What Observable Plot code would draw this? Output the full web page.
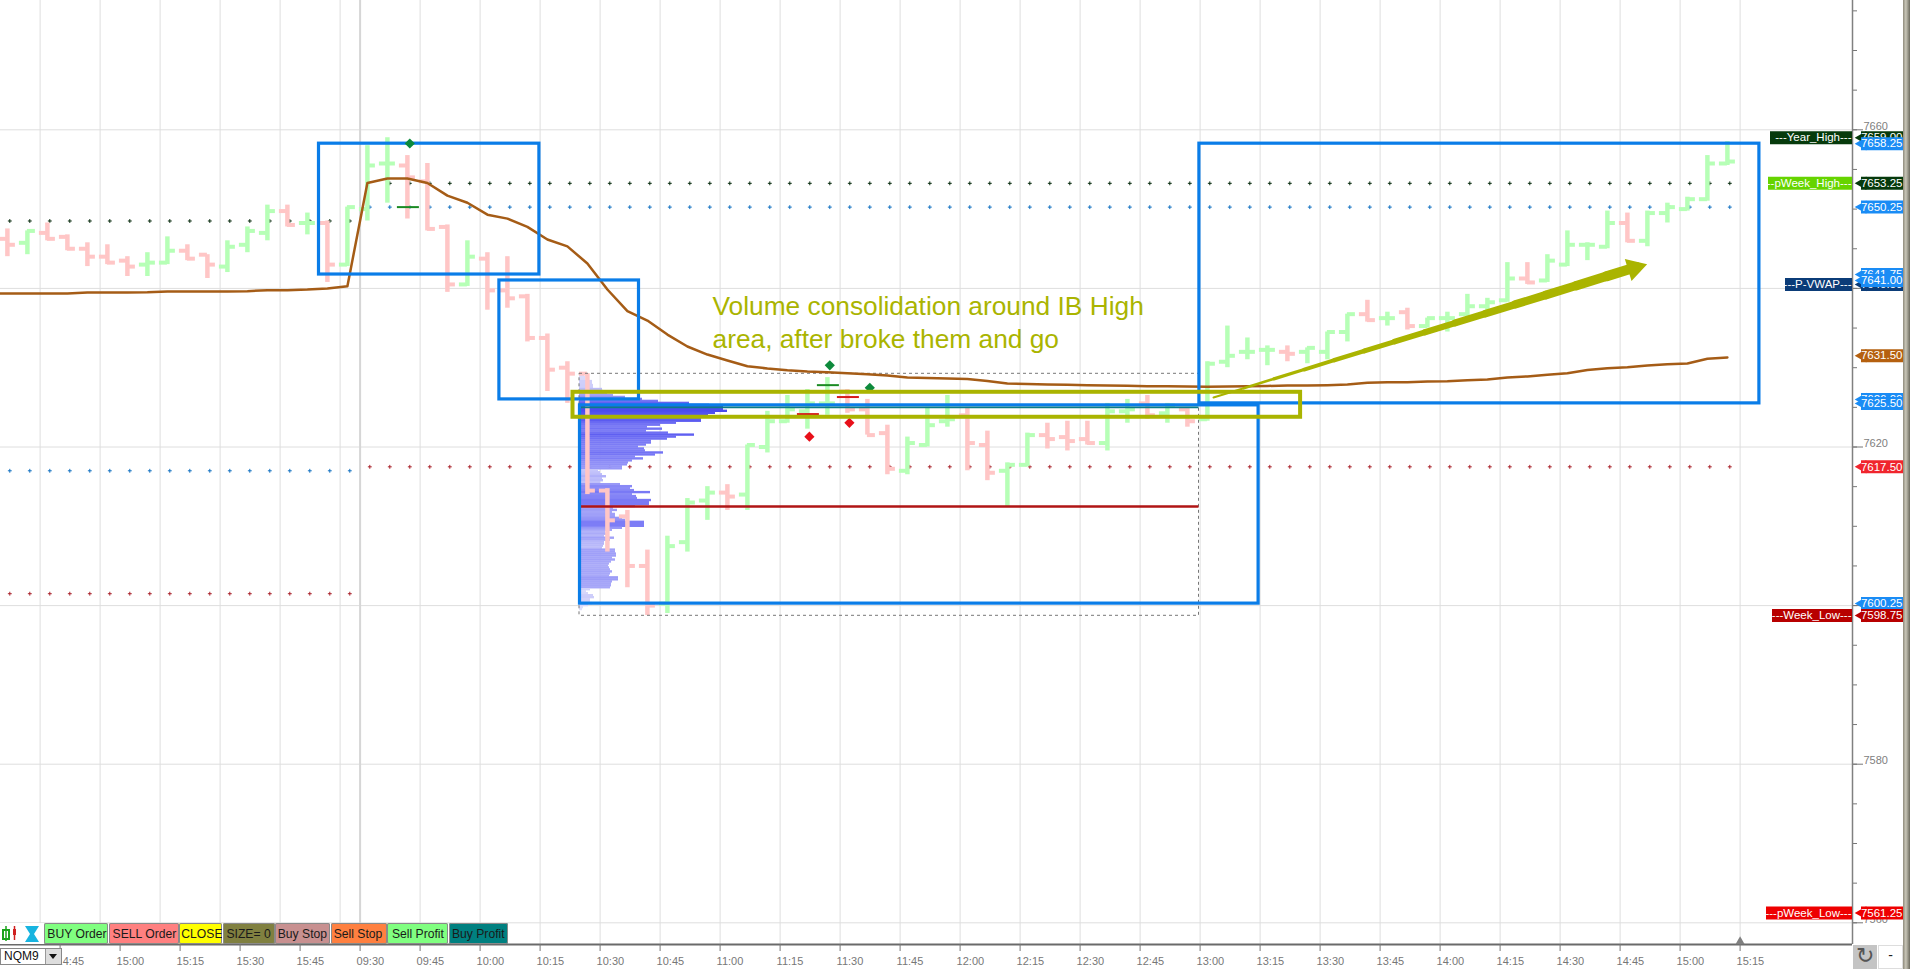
<!DOCTYPE html>
<html>
<head>
<meta charset="utf-8">
<script src="https://cdn.jsdelivr.net/npm/d3@7"></script>
<script src="https://cdn.jsdelivr.net/npm/@observablehq/plot@0.6"></script>
<style>
html,body{margin:0;padding:0;background:#fff;overflow:hidden}
#wrap{position:relative;width:1910px;height:969px;overflow:hidden;font-family:"Liberation Sans",Arial,sans-serif}
#wrap svg{display:block}
.btn{position:absolute;top:923px;height:21px;line-height:21px;text-align:center;font-size:13.5px;color:#1a1a1a;border-radius:2px;box-shadow:inset 0 0 0 1px #8a8a8a;white-space:nowrap;overflow:hidden}
.btn span{display:inline-block;transform:scaleX(.9);transform-origin:center}
</style>
</head>
<body>
<div id="wrap"></div>
<script>
// ---- bars: open / high / low / close, 5-minute bars in order
const barOpen = [7646.25,7645.75,7647,7646.5,7645,7644,7643.5,7643,7643.25,7644.75,7644.25,7642.75,7645.5,7647,7649.75,7648.25,7648.25,7643,7650,7655.75,7655.5,7653.5,7647.75,7640.5,7643.75,7639.75,7639,7633.75,7630,
7629.25,7614.5,7611.25,7605,7600.25,7608,7613.25,7614.25,7614,7620,7623.25,7624.5,7625.5,7627,7624.75,7621.75,7617,7620.25,7623.25,7624,7620.25,7617,7617.75,7621.5,7621.25,7621,7620.5,7624.5,7625.5,7624.25,7624.75,
7623.5,7630.75,7632,7632.25,7632,7632,7632,7634.5,7636.75,7636.25,7637,7635.25,7636.25,7636.75,7637.75,7638.5,7641.25,7641,7643,7645.5,7645.25,7648.25,7646,7649.5,7650,7651.25,7655.75];
const barHigh = [7647.5,7647.25,7648.25,7646.75,7645.75,7645.5,7644,7644.5,7646.5,7645.5,7644.25,7646,7647.75,7650.5,7650.5,7649.5,7648.5,7650.25,7658,7659,7656.75,7655.75,7648,7646,7644.5,7644,7639.25,7634.25,7630.75,
7629.25,7614.75,7612,7607,7608.75,7613.5,7615,7615.25,7620.25,7624.5,7626.5,7627.25,7628.75,7627.25,7626,7622.75,7621.25,7625,7626.5,7625,7622,7618,7621.75,7623,7623.25,7623.25,7625.5,7626,7626.5,7625.5,7625,
7630.75,7635.25,7633.75,7632.75,7632.75,7632.5,7634.5,7636.75,7638.5,7637,7637.5,7636.25,7637,7639.25,7638.75,7643.25,7643.25,7644.25,7647.25,7645.75,7649.75,7649.5,7649.75,7650.75,7651.5,7656.75,7658.5];
const barLow = [7644,7644.25,7646,7644.75,7642.75,7643,7641.5,7641.5,7643,7643.5,7641.25,7642,7644.5,7646,7647.75,7646.75,7640.75,7642.75,7648.5,7650.75,7648.75,7647.25,7639.5,7640.25,7637.25,7637.5,7633.25,7627,7625.5,
7614,7606.75,7602.25,7598.75,7599,7606.75,7610.75,7612,7612,7619.25,7623,7622.25,7624,7624.25,7621.5,7616.5,7616.5,7620,7622.5,7617,7615.75,7612.5,7617.5,7619.75,7619.5,7620.25,7619.5,7623,7623.5,7623,7622.5,
7623.25,7630,7631,7630.25,7630.75,7630.5,7631,7633.25,7635.75,7635.25,7634.75,7635,7634.5,7636,7636.75,7638.25,7640.5,7640.75,7642.75,7643.5,7645,7645.75,7645.25,7648.25,7649.75,7651,7655.5];
const barClose = [7645.5,7647.25,7646.25,7645,7644,7643.25,7642.75,7643.25,7644.75,7643.75,7643,7645.25,7647.25,7649.75,7648,7648.25,7643,7650.25,7655.5,7655.75,7654,7647.5,7640.5,7644,7639.75,7638.75,7633.75,7629.75,7629.25,
7614.5,7610.75,7605,7600,7607.5,7613,7614.25,7613.75,7620.25,7623.25,7624.75,7625.5,7625.5,7624.75,7621.5,7617.25,7620.5,7622.75,7623.5,7620.5,7616.75,7617.75,7621.5,7621,7620.75,7620.5,7624.5,7624.75,7624,7625.25,7623.25,
7630.5,7631.5,7632,7632.25,7631.75,7632.5,7634.5,7636.75,7636,7636.25,7635.25,7636.25,7636.25,7637.75,7638.25,7641.25,7640.75,7643.5,7645.5,7645.5,7648.25,7646,7649.5,7650.25,7651.25,7655.75,7656];

// ---- VWAP by bar
const vwapLead = 7639.36;
const vwap = [7639.36,7639.36,7639.36,7639.36,7639.48,7639.48,7639.48,7639.5,7639.6,7639.6,7639.6,7639.6,7639.65,7639.78,7639.78,7639.86,7640,7640.28,7653.3,7653.86,7653.86,7653.3,7651.7,7650.8,7649.3,7648.8,7647.76,7646.17,7645.3,7643.14,7639.86,7637.13,
7635.95,7634.18,7632.67,7631.66,7630.9,7630.19,7629.9,7629.68,7629.52,7629.43,7629.3,7629.18,7629.02,7628.76,7628.7,7628.64,7628.58,7628.32,7628,7627.95,7627.88,7627.84,7627.8,7627.76,7627.72,7627.67,7627.67,7627.63,7627.6,
7627.63,7627.67,7627.7,7627.76,7627.76,7627.8,7627.88,7628.1,7628.18,7628.18,7628.26,7628.3,7628.43,7628.5,7628.77,7628.9,7629.1,7629.3,7629.7,7629.94,7630.07,7630.28,7630.45,7630.53,7631.12,7631.29];

// ---- volume profile, one row per 0.25 point, from the top of the session range down
const profileTop = 7629;
const profileVolume = [5,6,6,13,13,14,14,23,24,28,34,46,63,79,110,130,144,144,148,136,129,124,122,122,97,81,68,83,67,89,115,97,88,72,72,67,59,65,66,84,76,56,64,53,49,48,43,43,19,21,23,27,23,24,21,41,53,51,55,71,53,57,58,72,70,70,56,34,38,33,36,36,43,46,65,65,65,43,33,26,29,25,35,31,25,25,24,23,36,36,37,37,33,36,32,30,29,30,31,33,31,30,39,39,33,32,32,31,11,7,9,14,15,11,11,13,9,4,3];

// ---- levels drawn as dotted rows: price, first bar, last bar
const dottedPrice = [7648.5,7653.25,7650.25,7617,7617.5,7601.5];
const dottedFrom  = [0,19,18,0,18,0];
const dottedTo    = [17,86,86,17,86,17];
const dottedColor = ["#062a0c","#062a0c","#1070c0","#1070c0","#a82028","#a82028"];

// ---- annotation boxes: bar left, bar right, top price, bottom price
const boxLeft   = [15.58,24.6,28.63,59.6];
const boxRight  = [26.6,31.58,62.56,87.6];
const boxTop    = [7658.25,7641,7625.25,7658.25];
const boxBottom = [7641.75,7626,7600.25,7625.5];
const olive = {left:28.28,right:64.66,top:7626.9,bottom:7623.75};

// ---- orders
const greenDiamonds = [[20.12,7658.27],[41.12,7630.3],[43.12,7627.46]];
const redDiamonds   = [[40.1,7621.3],[42.1,7623.05]];
const greenDashes   = [[19.5,20.6,7650.25],[40.5,41.6,7627.8]];
const redDashes     = [[41.5,42.6,7626.3],[39.5,40.6,7624.15]];

// ---- time axis
const timeLabels = ["14:45","15:00","15:15","15:30","15:45","09:30","09:45","10:00","10:15","10:30","10:45","11:00","11:15","11:30","11:45","12:00","12:15","12:30","12:45","13:00","13:15","13:30","13:45","14:00","14:15","14:30","14:45","15:00","15:15"];
const majorPrices = [7660,7640,7620,7600,7580,7560];
const minorPrices = [7675,7670,7665,7660,7655,7650,7645,7640,7635,7630,7625,7620,7615,7610,7605,7600,7595,7590,7585,7580,7575,7570,7565,7560];

// ---- price tags, drawn in this order
const tagPrice = [7659,7658.25,7653.25,7650.25,7641.75,7640.5,7641,7631.5,7626,7625.5,7617.5,7600.25,7598.75,7561.25];
const tagColor = ["#063a0c","#1a8cf5","#063a0c","#1a8cf5","#1a8cf5","#0b3c78","#1a8cf5","#b5600f","#1a8cf5","#1a8cf5","#f0252d","#1a8cf5","#b80000","#ee0000"];
const nameText  = ["---Year_High---","---pWeek_High---","---P-VWAP---","---Week_Low---","---pWeek_Low---"];
const namePrice = [7659,7653.25,7640.5,7598.75,7561.25];
const nameColor = ["#063a0c","#66d400","#0b3c78","#b80000","#ee0000"];
const nameLeft  = [1770,1768,1785,1772,1766];

const note = ["Volume consolidation around IB High","area, after broke them and go"];

// pixel helpers for overlay annotations only
const uPx = px => (px - 6.9) / 20;
const pPx = y => 7660 - (y - 130.3) / 7.93;

const UP = "#b6ffb6", DOWN = "#ffc6c6", GRID = "#dedede", OLIVE = "#aab400", BLUE = "#0a7de8", BROWN = "#a55c16";
const bars = barOpen.map((o,i)=>({i,o,h:barHigh[i],l:barLow[i],c:barClose[i],col:barClose[i]>=o?UP:DOWN}));
const vw = [{i:uPx(0),v:vwapLead}].concat(vwap.map((v,i)=>({i,v})));
const rows = profileVolume.map((v,i)=>({v,p:profileTop-0.25*i}));
const profileLeft = uPx(579);
const tickSlots = timeLabels.map((_,i)=>2.635+3*i);
const slotLabel = new Map(tickSlots.map((s,i)=>[s,timeLabels[i]]));
const gridSlots = [1.635,4.635,7.635,10.635,13.635,16.635].concat(tickSlots.slice(5).filter(s=>s!==17.635));
const boxes = boxLeft.map((l,i)=>({l,r:boxRight[i],t:boxTop[i],b:boxBottom[i]}));

const arrowFrom = [uPx(1213),pPx(398)], arrowTo = [uPx(1636),pPx(267.5)];
const arrowSegs = d3.range(0,14).map(k=>({
  x1:arrowFrom[0]+(arrowTo[0]-arrowFrom[0])*k/14, y1:arrowFrom[1]+(arrowTo[1]-arrowFrom[1])*k/14,
  x2:arrowFrom[0]+(arrowTo[0]-arrowFrom[0])*(k+1)/14, y2:arrowFrom[1]+(arrowTo[1]-arrowFrom[1])*(k+1)/14,
  w:2+k*0.62}));

const priceTagMarks = tagPrice.flatMap((p,i)=>[
  Plot.ruleY([p],{x1:uPx(1861),x2:uPx(1903),stroke:tagColor[i],strokeWidth:13}),
  Plot.dot([p],{x:uPx(1862),y:d=>d,symbol:"triangle",rotate:-90,r:5,fill:tagColor[i],stroke:"none"}),
  Plot.text([p],{x:uPx(1902),y:d=>d,text:d=>d.toFixed(2),textAnchor:"end",fill:"#fff",fontSize:11.5,fontFamily:"Liberation Sans"})
]);
const nameTagMarks = nameText.flatMap((t,i)=>[
  Plot.ruleY([namePrice[i]],{x1:uPx(nameLeft[i]),x2:uPx(1852),stroke:nameColor[i],strokeWidth:13}),
  Plot.text([t],{x:uPx(1851),y:namePrice[i],text:d=>d,textAnchor:"end",fill:"#fff",fontSize:11.5,fontFamily:"Liberation Sans"})
]);

const chart = Plot.plot({
  width:1910,height:969,
  marginTop:0,marginLeft:0,marginRight:58,marginBottom:25,
  style:{background:"#fff",fontFamily:"Liberation Sans",overflow:"visible"},
  x:{domain:[uPx(0),uPx(1852)],axis:null},
  y:{domain:[pPx(945),pPx(1)],axis:null},
  color:{type:"linear",domain:[5,20,30,60,150],range:["#dcdcfa","#c4c4fa","#a8a8f8","#8080f6","#4a4aee"],legend:false},
  marks:[
    Plot.ruleY(majorPrices,{stroke:GRID,strokeWidth:1}),
    Plot.ruleX(gridSlots,{stroke:GRID,strokeWidth:1}),
    Plot.ruleX([17.635],{stroke:"#d6d6d6",strokeWidth:2}),

    ...dottedPrice.map((p,i)=>Plot.dot(d3.range(dottedFrom[i],dottedTo[i]+1),{x:d=>d+0.12,y:()=>p,symbol:"plus",r:1.35,stroke:dottedColor[i],strokeWidth:1})),

    Plot.rect(rows,{x1:profileLeft,x2:d=>profileLeft+d.v/20,y1:d=>d.p-0.15,y2:d=>d.p+0.15,fill:d=>d.v}),

    Plot.ruleX(bars,{x:"i",y1:"l",y2:"h",stroke:"col",strokeWidth:4.5}),
    Plot.ruleY(bars,{y:"o",x1:d=>d.i-0.4,x2:"i",stroke:"col",strokeWidth:4}),
    Plot.ruleY(bars,{y:"c",x1:"i",x2:d=>d.i+0.4,stroke:"col",strokeWidth:4}),

    Plot.rect([0],{x1:uPx(579),x2:uPx(1198.5),y1:pPx(374.3),y2:pPx(616.3),fill:"none",stroke:"#777",strokeWidth:1,strokeDasharray:"3,3"}),
    Plot.ruleY([7612.5],{x1:uPx(580),x2:uPx(1198.5),stroke:"#b01515",strokeWidth:2.5}),

    Plot.line(vw,{x:"i",y:"v",stroke:BROWN,strokeWidth:2.5,curve:"linear"}),

    Plot.rect(boxes,{x1:"l",x2:"r",y1:"b",y2:"t",fill:"none",stroke:BLUE,strokeWidth:3.2}),
    Plot.ruleY([7625],{x1:uPx(581),x2:uPx(1198.5),stroke:"#0b7c86",strokeWidth:1.6}),

    Plot.ruleY(greenDashes,{x1:d=>d[0],x2:d=>d[1],y:d=>d[2],stroke:"#1a8a22",strokeWidth:2}),
    Plot.ruleY(redDashes,{x1:d=>d[0],x2:d=>d[1],y:d=>d[2],stroke:"#d81a1a",strokeWidth:2}),
    Plot.dot(greenDiamonds,{x:d=>d[0],y:d=>d[1],symbol:"diamond2",r:4.6,fill:"#0d8a3c",stroke:"none"}),
    Plot.dot(redDiamonds,{x:d=>d[0],y:d=>d[1],symbol:"diamond2",r:4.6,fill:"#e8101a",stroke:"none"}),

    Plot.rect([olive],{x1:"left",x2:"right",y1:"bottom",y2:"top",fill:"none",stroke:OLIVE,strokeWidth:4}),
    Plot.link(arrowSegs,{x1:"x1",y1:"y1",x2:"x2",y2:"y2",stroke:OLIVE,strokeWidth:"w",strokeLinecap:"round"}),
    Plot.dot([[uPx(1634),pPx(268.5)]],{x:d=>d[0],y:d=>d[1],symbol:"triangle",rotate:73,r:8.5,fill:OLIVE,stroke:"none"}),

    Plot.text([note[0]],{x:uPx(712),y:pPx(307),text:d=>d,textAnchor:"start",fill:OLIVE,fontSize:26.3,fontFamily:"Liberation Sans"}),
    Plot.text([note[1]],{x:uPx(712),y:pPx(340),text:d=>d,textAnchor:"start",fill:OLIVE,fontSize:26.3,fontFamily:"Liberation Sans"}),

    Plot.axisY(minorPrices,{anchor:"right",tickSize:4,fill:"none",stroke:"#777",label:null}),
    Plot.axisY(majorPrices,{anchor:"right",tickSize:10,fill:"none",stroke:"#777",label:null}),
    Plot.axisY(majorPrices,{anchor:"right",tickSize:0,tickPadding:11,stroke:"none",dy:-3.5,fill:"#808080",fontSize:11,label:null,tickFormat:d=>String(d)}),
    Plot.ruleX([uPx(1852)],{stroke:"#808080",strokeWidth:1.5}),
    Plot.ruleY([pPx(945)],{stroke:"#6a6a6a",strokeWidth:2}),
    Plot.axisX(tickSlots,{anchor:"bottom",tickSize:7,fill:"none",stroke:"#777",label:null}),
    Plot.axisX(tickSlots,{anchor:"bottom",tickSize:0,stroke:"none",textAnchor:"start",tickPadding:13,dx:-3.5,fill:"#777",fontSize:11,label:null,tickFormat:d=>slotLabel.get(d)}),
    Plot.dot([tickSlots[tickSlots.length-1]],{x:d=>d,y:pPx(942),symbol:"triangle",r:3.4,fill:"#808080",stroke:"none"}),

    ...nameTagMarks,
    ...priceTagMarks
  ]
});
const wrap = document.getElementById("wrap");
wrap.appendChild(chart);

// ---- toolbar and window furniture drawn above the chart
const buttons = [["BUY Order",44,64,"#80ff80"],["SELL Order",108.5,70,"#ff8080"],["CLOSE",179,43,"#ffff00"],["SIZE= 0",222.5,52,"#808040"],["Buy Stop",274.5,55.5,"#c89090"],["Sell Stop",330.5,56,"#ff8040"],["Sell Profit",387,61,"#80ff80"],["Buy Profit",448.5,59,"#008080"]];
buttons.forEach(([t,x,w,c])=>{const b=document.createElement("div");b.className="btn";const s=document.createElement("span");s.textContent=t;b.appendChild(s);b.style.left=x+"px";b.style.width=w+"px";b.style.background=c;wrap.appendChild(b);});
wrap.insertAdjacentHTML("beforeend",`
<div style="position:absolute;left:0;top:923px;width:44px;height:21px;background:#fff">
 <svg width="44" height="21"><rect x="3" y="7" width="6" height="9" fill="none" stroke="#1aa31a" stroke-width="2"/><line x1="6" y1="3" x2="6" y2="18" stroke="#1aa31a" stroke-width="1.5"/><rect x="13" y="6" width="3" height="6" fill="#d02020"/><line x1="14.5" y1="3" x2="14.5" y2="17" stroke="#d02020" stroke-width="1.5"/><path d="M25 3h14l-5 8 5 8h-14l5-8z" fill="#18b4e0"/></svg>
</div>
<div style="position:absolute;left:0;top:948px;width:62px;height:17px;background:#fff;border:1px solid #888;box-sizing:border-box;font-size:12px;line-height:15px;padding-left:3px;color:#111">NQM9
 <div style="position:absolute;right:0;top:0;width:15px;height:15px;background:#ddd;border-left:1px solid #999"><div style="position:absolute;left:3px;top:5px;width:0;height:0;border-left:4px solid transparent;border-right:4px solid transparent;border-top:5px solid #111"></div></div>
</div>
<div style="position:absolute;left:1853px;top:945px;width:24px;height:24px;background:#c4c4c4;color:#555;font-size:22px;line-height:22px;text-align:center">&#8635;</div>
<div style="position:absolute;left:1878px;top:945px;width:25px;height:24px;background:#fff;box-shadow:inset 0 0 0 1px #ddd;color:#222;font-size:14px;line-height:20px;text-align:center">-</div>
<div style="position:absolute;left:1903px;top:0;width:7px;height:969px;background:linear-gradient(90deg,#8f8b7c,#c9c6b8 40%,#6c6a5e)"></div>
`);
</script>
</body>
</html>
